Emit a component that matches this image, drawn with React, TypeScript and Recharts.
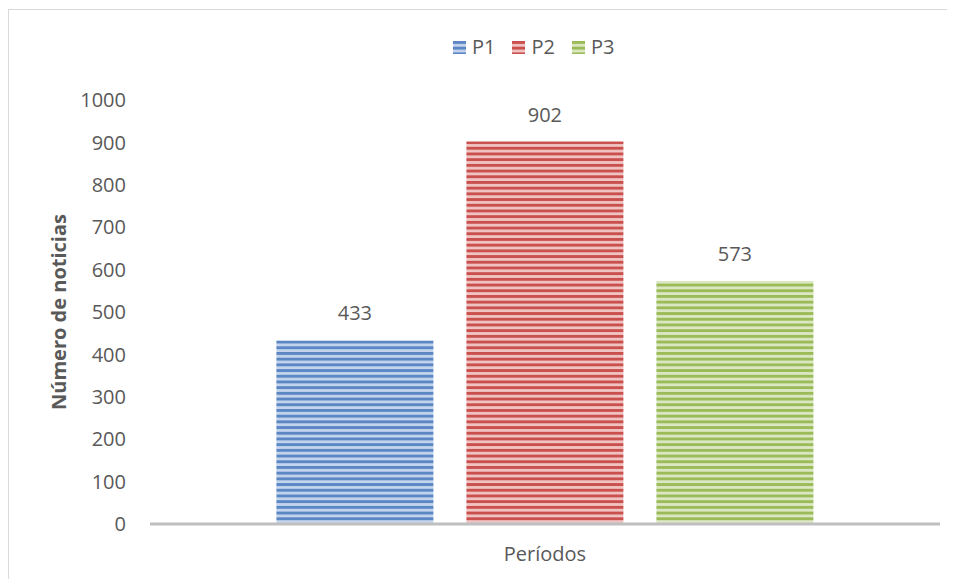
import React from "react";
import { BarChart, Bar, XAxis, YAxis, LabelList } from "recharts";

const series = ["P1", "P2", "P3"];
const values = [433, 902, 573];
const yTicks = [0, 100, 200, 300, 400, 500, 600, 700, 800, 900, 1000];

const palette: Record<string, { dark: string; light: string }> = {
  P1: { dark: "#5b87c5", light: "#c3d4ec" },
  P2: { dark: "#c9504d", light: "#f0c4c3" },
  P3: { dark: "#9bbb59", light: "#dbe8c3" },
};

const row: Record<string, string | number> = { name: "" };
series.forEach((s, i) => (row[s] = values[i]));
const data = [row];

const textColor = "#595959";
const font = "'Open Sans', sans-serif";

function LegendBox() {
  return (
    <div
      style={{
        position: "absolute",
        left: 444,
        top: 23,
        display: "flex",
        gap: 17,
        fontFamily: font,
        fontSize: 20,
        color: textColor,
        lineHeight: "28px",
      }}
    >
      {series.map((s) => (
        <div key={s} style={{ display: "flex", alignItems: "center", gap: 6 }}>
          <svg width={13} height={13}>
            <rect width={13} height={13} fill={`url(#stripe-${s})`} />
          </svg>
          <span>{s}</span>
        </div>
      ))}
    </div>
  );
}

export default function App() {
  return (
    <div
      style={{
        width: 947,
        height: 571,
        marginTop: 1,
        border: "1px solid #d9d9d9",
        borderRight: "none",
        borderBottom: "none",
        boxSizing: "border-box",
        position: "relative",
      }}
    >
      <svg width={0} height={0} style={{ position: "absolute" }}>
        <defs>
          {series.map((s) => (
            <pattern key={s} id={`stripe-${s}`} width={6} height={5.7} patternUnits="userSpaceOnUse">
              <rect width={6} height={5.7} fill={palette[s].light} />
              <rect width={6} height={2.9} fill={palette[s].dark} />
            </pattern>
          ))}
        </defs>
      </svg>
      <LegendBox />
      <BarChart
        width={946}
        height={570}
        data={data}
        margin={{ top: 90, right: 15, bottom: 0, left: 0 }}
        barCategoryGap="16%"
        barGap={33}
      >
        <XAxis
          dataKey="name"
          tick={false}
          tickLine={false}
          axisLine={{ stroke: "#bfbfbf", strokeWidth: 3 }}
          height={56}
          label={{ value: "Períodos", position: "insideBottom", offset: 19, fill: textColor, fontSize: 20, fontFamily: font }}
        />
        <YAxis
          domain={[0, 1000]}
          ticks={yTicks}
          interval={0}
          axisLine={false}
          tickLine={false}
          tickSize={0}
          tickMargin={24}
          width={141}
          tick={{ fill: textColor, fontSize: 20, fontFamily: font }}
          label={{
            value: "Número de noticias",
            angle: -90,
            position: "insideLeft",
            offset: 50,
            fill: textColor,
            fontSize: 20,
            fontWeight: "bold",
            fontFamily: font,
            style: { textAnchor: "middle" },
          }}
        />
        {series.map((s) => (
          <Bar key={s} dataKey={s} fill={`url(#stripe-${s})`} isAnimationActive={false}>
            <LabelList dataKey={s} position="top" offset={20} fill={textColor} fontSize={20} fontFamily={font} />
          </Bar>
        ))}
      </BarChart>
    </div>
  );
}
